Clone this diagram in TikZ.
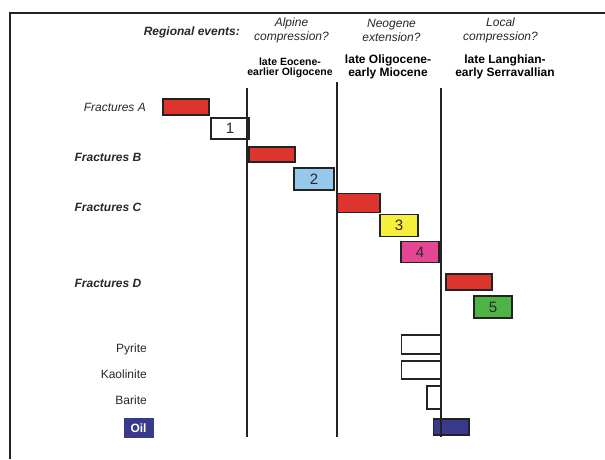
\documentclass[tikz,border=0pt]{standalone}
\usepackage{fontspec}
\setmainfont{Liberation Sans}
\definecolor{txt}{RGB}{40,40,40}
\definecolor{edge}{RGB}{35,35,35}
\definecolor{fred}{RGB}{222,52,46}
\definecolor{fblue}{RGB}{150,200,236}
\definecolor{fyellow}{RGB}{246,240,60}
\definecolor{fpink}{RGB}{228,70,148}
\definecolor{fgreen}{RGB}{78,180,70}
\definecolor{fnavy}{RGB}{58,58,140}
\begin{document}
\begin{tikzpicture}[x=1pt,y=-1pt,
  bar/.style={draw=edge,line width=1.4pt,inner sep=0pt,anchor=center,
    font=\fontsize{15}{15}\selectfont,text=txt},
  lbl/.style={anchor=east,inner sep=0pt,text=txt,font=\fontsize{12}{12}\selectfont},
  lblb/.style={lbl,font=\fontsize{12}{12}\selectfont\bfseries\itshape},
  evt/.style={align=center,inner sep=0pt,text=txt,font=\fontsize{12}{14.4}\selectfont\itshape},
  age/.style={align=center,inner sep=0pt,text=black,font=\fontsize{12}{12.6}\selectfont\bfseries},
  agesmall/.style={align=center,inner sep=0pt,text=black,font=\fontsize{10.5}{10.6}\selectfont\bfseries},
  vline/.style={draw=edge,line width=1.6pt}]
\useasboundingbox (0,0) rectangle (605,459);
\fill[white] (0,0) rectangle (605,459);
% frame
\draw[edge,line width=2pt] (605,12.5) -- (10,12.5) -- (10,459);

% header
\node[lbl,font=\fontsize{12}{12}\selectfont\bfseries\itshape] (reg) at (240,32.5) {Regional events:};
\node[evt] (ev1) at (291.5,30.5) {Alpine\\compression?};
\node[evt] (ev2) at (391.5,30.5) {Neogene\\extension?};
\node[evt] (ev3) at (500.5,30.5) {Local\\compression?};
\node[agesmall] (ag1) at (290,68) {late Eocene-\\earlier Oligocene};
\node[age] (ag2) at (388,67) {late Oligocene-\\early Miocene};
\node[age] (ag3) at (505,67) {late Langhian-\\early Serravallian};

% row labels
\node[lbl,font=\fontsize{12}{12}\selectfont\itshape] (fa) at (146,107) {Fractures A};
\node[lblb] (fb) at (141.5,157) {Fractures B};
\node[lblb] (fc) at (141.5,207.5) {Fractures C};
\node[lblb] (fd) at (141.5,283) {Fractures D};
\node[lbl] (py) at (147,349) {Pyrite};
\node[lbl] (ka) at (147,374) {Kaolinite};
\node[lbl] (ba) at (147,400.5) {Barite};
\node[fill=fnavy,text=white,inner sep=0pt,minimum width=30pt,minimum height=20pt,
  font=\fontsize{12}{12}\selectfont\bfseries] (oil) at (138.5,428) {Oil};

% bars
\node[bar,fill=fred,minimum width=46pt,minimum height=16pt] (ra) at (186,107) {};
\node[bar,fill=white,minimum width=38pt,minimum height=21pt] (b1) at (230,128.5) {1};
\node[bar,fill=fred,minimum width=46pt,minimum height=15pt] (rb) at (272,154.5) {};
\node[bar,fill=fblue,minimum width=40pt,minimum height=22pt] (b2) at (314,179) {2};
\node[bar,fill=fred,minimum width=43pt,minimum height=19pt] (rc) at (358.5,203) {};
\node[bar,fill=fyellow,minimum width=38pt,minimum height=22pt] (b3) at (399,225.5) {3};
\node[bar,fill=fpink,minimum width=38pt,minimum height=21pt] (b4) at (420,252) {4};
\node[bar,fill=fred,minimum width=46pt,minimum height=16pt] (rd) at (469,282) {};
\node[bar,fill=fgreen,minimum width=38pt,minimum height=22pt] (b5) at (493,307) {5};
\node[bar,fill=white,minimum width=39.5pt,minimum height=19pt] (bpy) at (421.25,344.5) {};
\node[bar,fill=white,minimum width=39.5pt,minimum height=18pt] (bka) at (421.25,370) {};
\node[bar,fill=white,minimum width=14pt,minimum height=23pt] (bba) at (434,397.5) {};
\node[bar,fill=fnavy,minimum width=35.5pt,minimum height=16pt] (boil) at (451.25,427) {};

% time lines
\coordinate (l1t) at (247,88);  \coordinate (l1b) at (247,437);
\coordinate (l2t) at (337,82);  \coordinate (l2b) at (337,437);
\coordinate (l3t) at (441,88);  \coordinate (l3b) at (441,437);
\draw[vline] (l1t) -- (l1b);
\draw[vline] (l2t) -- (l2b);
\draw[vline] (l3t) -- (l3b);
\end{tikzpicture}
\end{document}
